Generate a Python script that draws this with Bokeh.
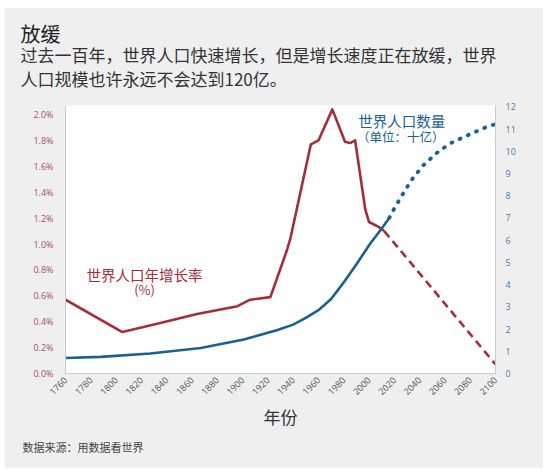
from bokeh.plotting import figure
from bokeh.models import Range1d, LinearAxis, FixedTicker, PrintfTickFormatter, Label, Title
from bokeh.embed import file_html
from bokeh.resources import INLINE
import math

# ---- data ----
years_rate = [1760, 1805, 1835, 1864, 1896, 1906, 1922, 1935, 1938, 1954, 1960, 1971,
              1981, 1985, 1989, 1997, 2000, 2008, 2012]
rate = [0.57, 0.32, 0.39, 0.46, 0.52, 0.57, 0.59, 0.95, 1.05, 1.77, 1.80, 2.04,
        1.79, 1.78, 1.80, 1.27, 1.17, 1.13, 1.10]
years_rate_proj = [2012, 2030, 2100]
rate_proj = [1.10, 0.89, 0.07]

years_pop = [1760, 1788, 1827, 1867, 1901, 1927, 1940, 1950, 1960, 1970,
             1980, 1991, 2001, 2009, 2016]
pop = [0.70, 0.75, 0.90, 1.15, 1.53, 1.95, 2.20, 2.50, 2.85, 3.35,
       4.10, 5.00, 5.85, 6.45, 7.00]
years_pop_proj = [2016, 2020, 2027, 2035, 2043, 2053, 2064, 2078, 2093, 2100]
pop_proj = [7.00, 7.43, 8.10, 8.82, 9.37, 9.90, 10.35, 10.72, 11.10, 11.22]

x_ticks = list(range(1760, 2101, 20))
left_ticks = [0.0, 0.2, 0.4, 0.6, 0.8, 1.0, 1.2, 1.4, 1.6, 1.8, 2.0]
right_ticks = list(range(0, 13))

title_text = "放缓"
subtitle_1 = "过去一百年，世界人口快速增长，但是增长速度正在放缓，世界"
subtitle_2 = "人口规模也许永远不会达到120亿。"
rate_label = "世界人口年增长率"
rate_unit = "(%)"
pop_label = "世界人口数量"
pop_unit = "（单位：十亿）"
x_label = "年份"
source_text = "数据来源：用数据看世界"

RED = "#a62b3b"
BLUE = "#17628f"
AXIS = "#c5ccd6"
CJK = "Noto Sans CJK SC"

W, H = 539, 461
p = figure(width=W, height=H, output_backend="svg", toolbar_location=None,
           x_range=Range1d(1760, 2100), y_range=Range1d(0, 2.07),
           min_border_left=61, min_border_right=48, min_border_top=98,
           min_border_bottom=95, background_fill_color="white",
           border_fill_color="#efefef", margin=(7, 0, 0, 4))
p.outline_line_color = None
p.grid.visible = False
p.extra_y_ranges = {"pop": Range1d(0, 12.06)}

# lines
p.line(years_rate, rate, line_color=RED, line_width=2.6, line_join="round")
p.line(years_rate_proj, rate_proj, line_color=RED, line_width=2.6, line_dash="8 5")
p.line(years_pop, pop, line_color=BLUE, line_width=2.6, line_join="round",
       y_range_name="pop")
p.line(years_pop_proj, pop_proj, line_color=BLUE, line_width=3.8, line_dash="1 8",
       line_cap="round", y_range_name="pop")

# axes
xa = p.xaxis[0]
xa.ticker = FixedTicker(ticks=x_ticks)
xa.major_label_orientation = math.pi / 4
xa.major_label_text_font = "Open Sans"
xa.major_label_text_font_size = "9px"
xa.major_label_text_color = "#555555"
xa.axis_line_color = AXIS
xa.major_tick_in = 0
xa.major_tick_out = 0
xa.minor_tick_line_color = None
xa.major_label_standoff = 5
xa.axis_label = x_label
xa.axis_label_text_font = CJK
xa.axis_label_text_font_size = "17px"
xa.axis_label_text_font_style = "normal"
xa.axis_label_text_color = "#333333"
xa.axis_label_standoff = 3

ya = p.yaxis[0]
ya.ticker = FixedTicker(ticks=left_ticks)
ya.formatter = PrintfTickFormatter(format="%.1f%%")
ya.major_label_text_font = "Open Sans"
ya.major_label_text_font_size = "9px"
ya.major_label_text_color = "#a8505e"
ya.axis_line_color = AXIS
ya.major_tick_in = 0
ya.major_tick_out = 0
ya.minor_tick_line_color = None
ya.major_label_standoff = 12

ra = LinearAxis(y_range_name="pop", ticker=FixedTicker(ticks=right_ticks))
ra.major_label_text_font = "Open Sans"
ra.major_label_text_font_size = "9px"
ra.major_label_text_color = "#4a7cab"
ra.axis_line_color = AXIS
ra.major_tick_in = 0
ra.major_tick_out = 0
ra.minor_tick_line_color = None
ra.major_label_standoff = 10
p.add_layout(ra, "right")

# in-plot labels (data units)
p.add_layout(Label(x=1822.5, y=0.763, text=rate_label, text_align="center",
                   text_baseline="middle", text_font=CJK, text_font_size="14.5px",
                   text_color=RED))
p.add_layout(Label(x=1822.5, y=0.647, text=rate_unit, text_align="center",
                   text_baseline="middle", text_font=CJK, text_font_size="13px",
                   text_color=RED))
p.add_layout(Label(x=1991.5, y=1.956, text=pop_label, text_align="left",
                   text_baseline="middle", text_font=CJK, text_font_size="14.5px",
                   text_color=BLUE))
p.add_layout(Label(x=1990.5, y=1.830, text=pop_unit, text_align="left",
                   text_baseline="middle", text_font=CJK, text_font_size="12.5px",
                   text_color=BLUE))

# texts outside the frame as titles (first added = nearest the frame)
# spacer between the frame and the subtitle block
p.add_layout(Title(text=" ", text_font_size="1px", standoff=12), "above")
p.add_layout(Title(text=subtitle_1 + "\n" + subtitle_2, align="left", offset=-45,
                   standoff=0, text_font=CJK, text_font_size="17px",
                   text_font_style="normal", text_color="#333333",
                   text_line_height=0.93), "above")
p.add_layout(Title(text=title_text, align="left", offset=-45, standoff=-14,
                   text_font=CJK, text_font_size="20px", text_font_style="normal",
                   text_color="#222222"), "above")
p.add_layout(Title(text=source_text, align="left", offset=-43, standoff=8,
                   text_font=CJK, text_font_size="11px", text_font_style="normal",
                   text_color="#444444"), "below")

open("out.html", "w").write(file_html(p, INLINE))
